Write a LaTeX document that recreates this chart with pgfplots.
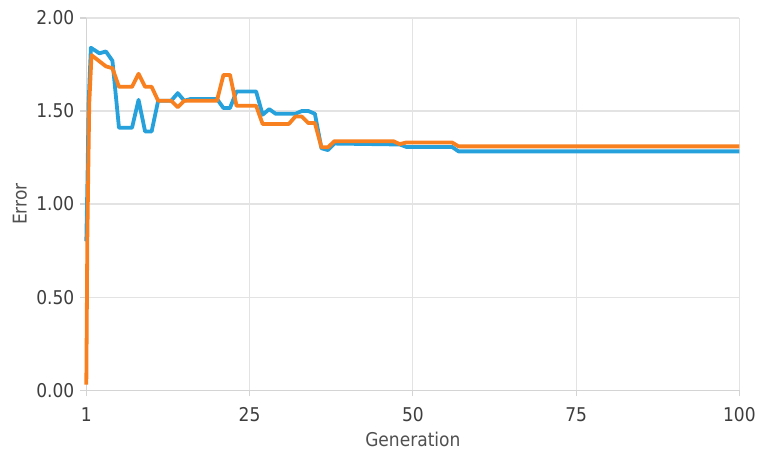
\documentclass[border=0pt]{standalone}
\usepackage{pgfplots}
\pgfplotsset{compat=1.18}
\usepackage{pgfplotstable}
\usepackage{fontspec}
\setmainfont{DejaVu Sans Condensed}

\definecolor{serblue}{HTML}{27A1DB}
\definecolor{serorange}{HTML}{F8801F}
\definecolor{gridgray}{HTML}{E3E3E3}
\definecolor{axisgray}{HTML}{D4D4D4}
\definecolor{ticktext}{HTML}{3E3E3E}
\definecolor{labeltext}{HTML}{505050}

% error per generation, first run
\pgfplotstableread{
x y
0 0.80
0.2 1.17
0.35 1.54
0.7 1.84
2 1.81
3 1.82
4 1.77
5 1.41
7 1.41
8 1.56
9 1.39
10 1.39
11 1.555
13 1.555
14 1.596
15 1.555
16 1.565
20 1.565
21 1.516
22 1.516
23 1.605
26 1.605
27 1.48
28 1.51
29 1.485
32 1.485
33 1.50
34 1.50
35 1.485
36 1.30
37 1.29
38 1.325
48 1.32
49 1.307
56 1.307
57 1.283
100 1.283
}\seriesA

% error per generation, second run
\pgfplotstableread{
x y
0 0.03
0.08 0.42
0.15 0.80
0.3 1.17
0.45 1.54
0.8 1.80
3 1.74
4 1.73
5 1.63
7 1.63
8 1.70
9 1.63
10 1.63
11 1.555
13 1.555
14 1.52
15 1.555
20 1.555
21 1.694
22 1.694
23 1.528
26 1.528
27 1.43
31 1.43
32 1.47
33 1.47
34 1.435
35 1.435
36 1.305
37 1.305
38 1.338
47 1.338
48 1.322
49 1.331
56 1.331
57 1.31
100 1.31
}\seriesB

\begin{document}
\begin{tikzpicture}
\begin{axis}[
  scale only axis,
  width=654.5pt, height=373pt,
  xmin=0, xmax=100, ymin=0, ymax=2,
  xtick={0,25,50,75,100},
  xticklabels={1,25,50,75,100},
  ytick={0,0.5,1,1.5,2},
  yticklabel style={/pgf/number format/.cd, fixed, fixed zerofill, precision=2},
  /pgf/number format/assume math mode=true,
  axis lines=left,
  axis line style={axisgray, line width=1.2pt, -},
  grid=major,
  major grid style={gridgray, line width=1.2pt},
  tick style={axisgray, line width=1.2pt},
  tick align=outside,
  major tick length=6pt,
  ticklabel style={font=\fontsize{19}{22}\selectfont, text=ticktext},
  xticklabel shift=8pt,
  yticklabel shift=2.5pt,
  xlabel={Generation},
  ylabel={Error},
  label style={font=\fontsize{19}{22}\selectfont, text=labeltext},
  xlabel style={at={([yshift=-49pt]axis description cs:0.5,0)}, anchor=center},
  ylabel style={at={([xshift=-66.5pt]axis description cs:0,0.5)}, anchor=center},
  clip=false,
]
\addplot[serblue, line width=3.8pt, line join=round] table[x=x, y=y] {\seriesA};
\addplot[serorange, line width=3.8pt, line join=round] table[x=x, y=y] {\seriesB};
\end{axis}
\path (current axis.south west) ++(-86.5pt,-59pt) rectangle ++(759pt,450pt);
\end{tikzpicture}
\end{document}
